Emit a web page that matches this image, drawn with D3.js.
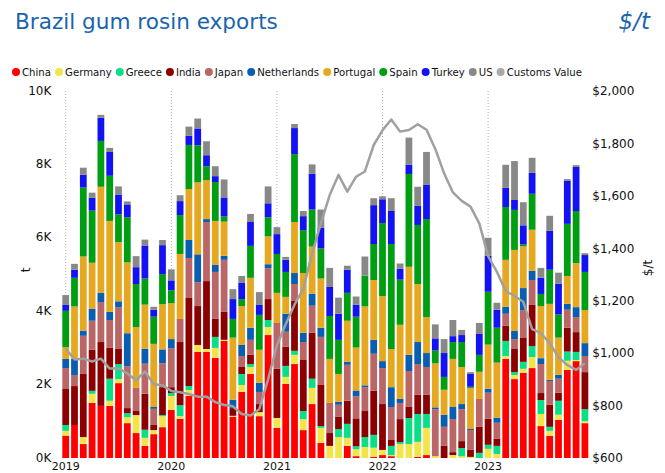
<!DOCTYPE html>
<html><head><meta charset="utf-8">
<script src="https://cdn.jsdelivr.net/npm/d3@7"></script>
<style>body{margin:0;background:#fff}svg{display:block}text{font-family:"DejaVu Sans",sans-serif}</style>
</head><body><svg id="c" width="665" height="473"></svg>
<script>
// ---- data (tonnes per month, Jan 2019 .. Dec 2023) ----
const years = ["2019","2020","2021","2022","2023"];
const months = ["01","02","03","04","05","06","07","08","09","10","11","12"];
const categories = years.flatMap(y => months.map(m => y + "-" + m));
const seriesNames = ["China","Germany","Greece","India","Japan","Netherlands","Portugal","Spain","Turkey","US"];
const China = [610,900,380,1500,1420,1420,2040,950,680,330,650,840,1310,1070,1690,2890,2890,2730,3190,1120,1800,2290,1140,3350,820,2020,2560,760,1470,410,0,0,330,50,0,30,80,50,0,0,30,80,0,0,0,0,0,0,0,0,2700,2150,2320,2450,870,600,1040,2400,2640,950];
const Germany = [130,0,190,250,0,140,110,160,490,220,110,300,380,70,160,190,80,270,30,30,190,190,110,220,270,190,250,300,440,410,330,570,220,190,300,250,140,30,380,380,410,740,50,0,80,50,30,0,250,110,80,110,110,300,330,140,140,250,30,50];
const Greece = [160,0,0,80,0,600,410,110,0,220,0,30,80,300,110,0,0,300,0,0,300,80,0,190,0,300,110,220,250,50,0,220,380,80,270,350,0,250,50,710,760,380,0,0,0,220,0,140,110,220,410,80,190,300,380,110,380,250,220,330];
const India = [980,1060,1720,1120,1740,840,410,140,110,980,140,760,160,1720,2400,1060,1850,490,760,210,190,250,220,570,1340,520,1360,1390,1250,1120,350,330,630,760,710,1200,1250,160,630,300,520,520,0,330,80,190,190,710,710,190,410,630,650,1120,190,600,220,650,540,1010];
const Japan = [570,300,1040,790,1090,760,1140,1140,630,820,440,650,1060,630,1090,650,1610,1280,1420,0,300,410,330,840,1250,410,460,490,740,1310,820,330,980,600,650,1010,980,900,440,980,840,760,1280,520,900,870,540,760,710,440,330,270,760,680,790,650,380,490,410,440];
const Netherlands = [250,440,140,330,250,220,160,900,0,410,50,380,250,0,490,760,80,190,110,230,300,330,250,110,0,490,300,250,330,250,0,80,80,160,50,380,190,540,110,440,600,380,50,330,330,140,30,0,110,140,190,220,600,250,160,30,110,160,270,350];
const Portugal = [320,1430,2020,1250,2890,2480,1610,1930,1660,1200,1720,1230,980,1770,1390,1960,1060,1200,930,1690,1060,1360,900,760,820,460,1390,1630,1280,1340,1200,760,1120,1170,2150,1630,1770,1040,2020,2400,1580,980,1200,680,1310,1010,1120,740,1200,1500,1280,2210,1140,1120,1420,2070,1010,760,1200,900];
const Spain = [990,780,1880,1420,1250,1230,760,1230,1170,710,740,820,350,1060,1200,1010,380,1060,140,510,190,870,950,520,1060,680,1850,1170,1010,820,1170,930,760,840,840,980,1990,2860,1230,2530,1610,2670,350,350,460,680,30,460,1440,950,1440,1090,50,980,330,930,630,1420,1420,1040];
const Turkey = [160,220,350,350,630,650,540,350,460,900,190,790,270,380,250,460,300,160,520,540,440,650,270,380,540,330,710,380,980,570,790,710,630,330,0,1060,650,900,300,250,520,930,330,650,160,190,350,570,980,490,520,270,520,570,440,1060,840,1170,1200,460];
const US = [270,160,190,140,80,110,220,80,300,160,80,140,300,160,250,270,380,270,490,270,190,220,350,460,190,80,110,140,250,490,520,440,110,220,520,190,80,350,140,740,520,900,380,380,440,140,50,300,490,190,630,1060,630,410,270,410,300,50,50,50];
const customsValue = [1018,976,979,968,979,941,942,923,896,930,882,877,856,851,844,834,834,813,802,797,768,762,786,900,1030,1110,1185,1245,1380,1495,1603,1680,1616,1673,1693,1794,1850,1891,1845,1851,1873,1852,1779,1686,1613,1581,1559,1495,1370,1310,1237,1218,1196,1092,1076,1038,984,955,936,961];
const leftTicks = [0,2000,4000,6000,8000,10000];
const leftTickLabels = ["0K","2K","4K","6K","8K","10K"];
const rightTicks = [600,800,1000,1200,1400,1600,1800,2000];
const rightTickLabels = ["$600","$800","$1,000","$1,200","$1,400","$1,600","$1,800","$2,000"];

const colors = {China:"#ff0000",Germany:"#f3e44a",Greece:"#0ade87",India:"#8b0000",Japan:"#ba6666",Netherlands:"#0a5eb2",Portugal:"#e6a820",Spain:"#009e12",Turkey:"#1212f2",US:"#888888","Customs Value":"#a8a8a8"};
const seriesData = {China,Germany,Greece,India,Japan,Netherlands,Portugal,Spain,Turkey,US};

// ---- layout ----
const svg = d3.select("#c");
const plot = {left:61.3, right:589.3, top:91, bottom:458};
const x = d3.scaleBand().domain(categories).range([plot.left, plot.right]).paddingInner(0.23).paddingOuter(0.115);
const y = d3.scaleLinear().domain([0,10000]).range([plot.bottom, plot.top]);
const yR = d3.scaleLinear().domain([600,2000]).range([plot.bottom, plot.top]);

// title
svg.append("text").attr("x",15).attr("y",29).attr("fill","#1a64ae")
  .style("font-size","22px").text("Brazil gum rosin exports")
  .each(function(){ const w=this.getComputedTextLength(); d3.select(this).style("font-size",(22*263/w)+"px"); });
svg.append("text").attr("x",650).attr("y",29).attr("text-anchor","end").attr("fill","#1a64ae")
  .style("font-size","23px").style("font-style","italic").text("$/t");

// legend: laid out in sequence, scaled to span the reference width
const legendItems = seriesNames.concat(["Customs Value"]);
const lg = svg.append("g");
const legendTexts = legendItems.map(n => lg.append("text").attr("y",76).style("font-size","11px").attr("fill","#111").text(n));
const rawW = legendTexts.map(t => t.node().getComputedTextLength());
const dotW = 10, gap = 4, startX = 12, endX = 582;
const textTotal = d3.sum(rawW);
const fs = 11 * ((endX - startX) - legendItems.length*dotW - (legendItems.length-1)*gap) / textTotal;
let cx = startX;
legendItems.forEach((n,i)=>{
  const w = rawW[i] * fs / 11;
  lg.append("circle").attr("cx",cx+4).attr("cy",72).attr("r",4).attr("fill",colors[n]);
  legendTexts[i].attr("x",cx+dotW).style("font-size",fs+"px");
  cx += dotW + w + gap;
});

// year dotted lines
const janCats = years.map(yy=>yy+"-01");
svg.append("g").selectAll("line").data(janCats).join("line")
  .attr("x1",d=>x(d)+x.bandwidth()/2).attr("x2",d=>x(d)+x.bandwidth()/2)
  .attr("y1",plot.top).attr("y2",plot.bottom)
  .attr("stroke","#b0b0b0").attr("stroke-width",1).attr("stroke-dasharray","1,2");

// stacked bars
const table = categories.map((c,i)=>{ const o={cat:c}; seriesNames.forEach(s=>o[s]=seriesData[s][i]); return o; });
const stack = d3.stack().keys(seriesNames)(table);
svg.append("g").selectAll("g").data(stack).join("g").attr("fill",d=>colors[d.key])
  .selectAll("rect").data(d=>d).join("rect")
  .attr("x",d=>x(d.data.cat)).attr("width",x.bandwidth())
  .attr("y",d=>y(d[1])).attr("height",d=>Math.max(0,y(d[0])-y(d[1])));

// customs value line
const line = d3.line().x((d,i)=>x(categories[i])+x.bandwidth()/2).y(d=>yR(d)).curve(d3.curveLinear);
svg.append("path").datum(customsValue).attr("d",line).attr("fill","none")
  .attr("stroke","#a0a0a0").attr("stroke-width",2.5).attr("stroke-linejoin","round");

// axes
const axL = svg.append("g").attr("transform",`translate(${plot.left-10},0)`)
  .call(d3.axisLeft(y).tickValues(leftTicks).tickFormat((d,i)=>leftTickLabels[i]).tickSize(0).tickPadding(0));
const axR = svg.append("g").attr("transform",`translate(${plot.right+3},0)`)
  .call(d3.axisRight(yR).tickValues(rightTicks).tickFormat((d,i)=>rightTickLabels[i]).tickSize(0).tickPadding(0));
const axB = svg.append("g").attr("transform",`translate(0,${plot.bottom})`)
  .call(d3.axisBottom(x).tickValues(janCats).tickFormat(d=>d.slice(0,4)).tickSize(0).tickPadding(0));
[axL,axR].forEach(a=>{ a.select(".domain").remove(); a.selectAll("text").style("font-size","12px").attr("fill","#111").style("font-family","'DejaVu Sans',sans-serif"); });
axL.selectAll("text").attr("dy","0.25em");
axB.select(".domain").remove();
axB.selectAll("text").attr("y",12).attr("dy",null).style("font-size","11px").attr("fill","#111").style("font-family","'DejaVu Sans',sans-serif");

svg.append("text").attr("transform","translate(30,270) rotate(-90)").attr("text-anchor","middle")
  .style("font-size","12px").attr("fill","#111").text("t");
svg.append("text").attr("transform","translate(652,268) rotate(-90)").attr("text-anchor","middle")
  .style("font-size","12px").attr("fill","#111").text("$/t");
</script></body></html>
